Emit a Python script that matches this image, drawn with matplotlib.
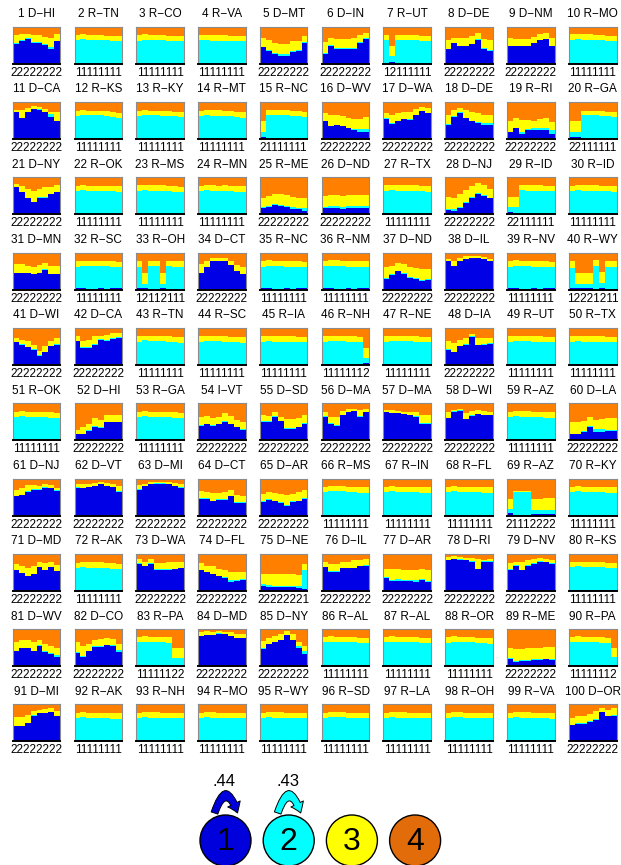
import numpy as np
import matplotlib.pyplot as plt
from matplotlib.patches import Circle, FancyArrowPatch

plt.rcParams['font.family'] = ['Liberation Sans', 'DejaVu Sans']

titles = [
    "1 D−HI", "2 R−TN", "3 R−CO", "4 R−VA", "5 D−MT", "6 D−IN", "7 R−UT", "8 D−DE", "9 D−NM", "10 R−MO",
    "11 D−CA", "12 R−KS", "13 R−KY", "14 R−MT", "15 R−NC", "16 D−WV", "17 D−WA", "18 D−DE", "19 R−RI", "20 R−GA",
    "21 D−NY", "22 R−OK", "23 R−MS", "24 R−MN", "25 R−ME", "26 D−ND", "27 R−TX", "28 D−NJ", "29 R−ID", "30 R−ID",
    "31 D−MN", "32 R−SC", "33 R−OH", "34 D−CT", "35 R−NC", "36 R−NM", "37 D−ND", "38 D−IL", "39 R−NV", "40 R−WY",
    "41 D−WI", "42 D−CA", "43 R−TN", "44 R−SC", "45 R−IA", "46 R−NH", "47 R−NE", "48 D−IA", "49 R−UT", "50 R−TX",
    "51 R−OK", "52 D−HI", "53 R−GA", "54 I−VT", "55 D−SD", "56 D−MA", "57 D−MA", "58 D−WI", "59 R−AZ", "60 D−LA",
    "61 D−NJ", "62 D−VT", "63 D−MI", "64 D−CT", "65 D−AR", "66 R−MS", "67 R−IN", "68 R−FL", "69 R−AZ", "70 R−KY",
    "71 D−MD", "72 R−AK", "73 D−WA", "74 D−FL", "75 D−NE", "76 D−IL", "77 D−AR", "78 D−RI", "79 D−NV", "80 R−KS",
    "81 D−WV", "82 D−CO", "83 R−PA", "84 D−MD", "85 D−NY", "86 R−AL", "87 R−AL", "88 R−OR", "89 R−ME", "90 R−PA",
    "91 D−MI", "92 R−AK", "93 R−NH", "94 R−MO", "95 R−WY", "96 R−SD", "97 R−LA", "98 R−OH", "99 R−VA", "100 D−OR",
]

A, B = "11111111", "22222222"
labels = [
    B, A, A, A, B, B, "12111111", B, B, A,
    B, A, A, A, "21111111", B, B, B, B, "22111111",
    B, A, A, A, B, B, A, B, "22111111", A,
    B, A, "12112111", B, A, A, B, B, A, "12221211",
    B, B, A, A, A, "11111112", A, B, A, A,
    A, B, A, B, B, B, B, B, A, B,
    B, B, B, B, B, A, A, A, "21112222", A,
    B, A, B, B, "22222221", B, B, B, B, A,
    B, B, "11111122", B, B, A, A, A, B, "11111112",
    B, A, A, A, A, A, A, A, A, B,
]

# cumulative tops (percent of panel height): blue, blue+cyan, blue+cyan+yellow; rest orange
blue_top = [
    [54, 62, 67, 57, 57, 50, 41, 61], [1, 1, 1, 1, 1, 1, 1, 1], [1, 1, 1, 1, 1, 1, 1, 1], [1, 1, 1, 1, 1, 1, 1, 1],
    [45, 33, 27, 22, 22, 31, 33, 57], [27, 49, 41, 41, 41, 41, 57, 68], [2, 4, 1, 1, 1, 1, 1, 1],
    [39, 56, 48, 48, 52, 65, 41, 34], [48, 48, 48, 48, 55, 63, 66, 48], [1, 1, 1, 1, 1, 1, 1, 1],

    [72, 57, 73, 80, 79, 72, 60, 48], [1, 1, 1, 1, 1, 1, 1, 1], [1, 1, 1, 1, 1, 1, 1, 1], [1, 1, 1, 1, 1, 1, 1, 1],
    [6, 1, 1, 1, 1, 1, 1, 1], [49, 34, 37, 34, 29, 24, 19, 19], [55, 41, 49, 53, 52, 64, 75, 70],
    [39, 60, 71, 57, 49, 44, 39, 39], [18, 29, 14, 25, 25, 25, 25, 14], [6, 6, 1, 1, 1, 1, 1, 1],

    [73, 59, 43, 32, 45, 45, 55, 59], [1, 1, 1, 1, 1, 1, 1, 1], [1, 1, 1, 1, 1, 1, 1, 1], [1, 1, 1, 1, 1, 1, 1, 1],
    [16, 20, 25, 23, 20, 14, 14, 9], [16, 17, 17, 14, 16, 18, 18, 18], [1, 1, 1, 1, 1, 1, 1, 1],
    [11, 9, 16, 30, 43, 55, 50, 43], [5, 2, 1, 1, 1, 1, 1, 1], [1, 1, 1, 1, 1, 1, 1, 1],

    [45, 45, 45, 41, 45, 54, 41, 41], [3, 3, 2, 2, 3, 2, 3, 3], [3, 5, 2, 2, 4, 2, 2, 2], [44, 60, 76, 76, 76, 66, 50, 41],
    [3, 3, 2, 2, 3, 2, 3, 3], [3, 3, 2, 2, 3, 2, 3, 3], [28, 40, 49, 41, 32, 29, 23, 25],
    [76, 64, 77, 82, 85, 85, 82, 76], [3, 3, 2, 2, 3, 2, 3, 3], [3, 4, 5, 4, 2, 4, 2, 2],

    [62, 55, 48, 41, 25, 34, 50, 55], [64, 45, 45, 55, 68, 65, 70, 73], [3, 3, 3, 2, 3, 3, 3, 3], [3, 3, 3, 2, 3, 3, 3, 3],
    [3, 3, 2, 3, 2, 3, 3, 3], [3, 3, 3, 3, 3, 3, 3, 4], [3, 3, 2, 3, 3, 3, 3, 3],
    [41, 34, 50, 55, 75, 53, 55, 57], [3, 3, 2, 3, 2, 3, 3, 3], [3, 3, 3, 2, 3, 3, 3, 3],

    [1, 1, 1, 1, 1, 1, 3, 1], [16, 16, 25, 36, 34, 48, 48, 48], [1, 1, 1, 1, 1, 1, 3, 1], [39, 43, 39, 43, 50, 43, 36, 27],
    [50, 50, 64, 52, 30, 30, 36, 45], [64, 45, 39, 68, 75, 79, 64, 75], [75, 73, 73, 70, 68, 64, 45, 45],
    [59, 77, 80, 57, 66, 70, 68, 68], [1, 1, 1, 1, 1, 1, 3, 1], [16, 16, 23, 36, 23, 23, 25, 25],

    [52, 55, 64, 70, 70, 75, 73, 65], [75, 73, 77, 80, 84, 80, 77, 64], [70, 79, 85, 86, 86, 85, 80, 75],
    [45, 45, 38, 43, 43, 52, 34, 34], [36, 43, 38, 34, 27, 36, 38, 45], [2, 2, 2, 2, 2, 2, 2, 2],
    [2, 2, 2, 2, 2, 2, 2, 2], [2, 2, 2, 2, 2, 2, 2, 2], [6, 2, 2, 2, 4, 4, 4, 4], [2, 2, 2, 2, 2, 2, 2, 2],

    [55, 48, 39, 45, 64, 55, 64, 53], [2, 2, 2, 2, 2, 2, 2, 2], [73, 66, 73, 57, 57, 57, 59, 61],
    [55, 50, 45, 39, 34, 25, 27, 30], [14, 11, 9, 9, 9, 9, 7, 5], [64, 52, 52, 61, 61, 61, 66, 68],
    [34, 27, 27, 27, 27, 25, 29, 23], [82, 85, 84, 83, 79, 59, 79, 79], [57, 68, 56, 68, 73, 79, 77, 73],
    [2, 2, 2, 2, 2, 2, 2, 2],

    [41, 48, 48, 41, 55, 38, 34, 25], [36, 25, 41, 52, 52, 57, 55, 39], [3, 3, 2, 3, 3, 3, 4, 4],
    [80, 84, 84, 88, 86, 80, 75, 75], [47, 59, 64, 70, 84, 70, 50, 34], [3, 3, 2, 3, 2, 3, 3, 3],
    [3, 3, 2, 3, 2, 3, 3, 3], [3, 3, 2, 3, 2, 3, 3, 3], [18, 12, 14, 14, 16, 16, 18, 16], [3, 3, 3, 3, 3, 3, 3, 3],

    [41, 41, 49, 70, 76, 76, 79, 68], [1, 1, 1, 1, 1, 3, 1, 1], [1, 1, 1, 1, 1, 3, 1, 1], [1, 1, 1, 1, 1, 3, 1, 1],
    [1, 1, 1, 1, 1, 3, 1, 1], [1, 1, 1, 1, 1, 3, 1, 1], [1, 1, 1, 1, 1, 3, 1, 1], [1, 1, 1, 1, 1, 3, 1, 1],
    [1, 1, 1, 1, 1, 3, 1, 1], [43, 48, 48, 53, 59, 79, 68, 70],
]

cyan_top = [
    [55, 65, 70, 58, 58, 52, 45, 62], [63, 66, 64, 64, 64, 63, 61, 61], [62, 65, 63, 63, 63, 61, 60, 60], [63, 64, 62, 62, 62, 61, 60, 60],
    [46, 36, 30, 25, 25, 35, 36, 59], [28, 50, 43, 43, 43, 43, 59, 70], [64, 20, 64, 64, 64, 63, 61, 61],
    [40, 57, 49, 49, 53, 66, 43, 37], [49, 49, 49, 49, 56, 64, 67, 49], [64, 66, 64, 64, 64, 63, 61, 61],

    [73, 58, 74, 81, 80, 74, 67, 50], [62, 66, 64, 64, 64, 62, 60, 57], [62, 66, 64, 64, 63, 63, 61, 59], [62, 65, 63, 63, 63, 62, 60, 58],
    [18, 66, 64, 64, 64, 63, 61, 60], [50, 35, 38, 36, 31, 28, 28, 28], [56, 42, 50, 54, 53, 65, 76, 71],
    [40, 61, 72, 58, 50, 45, 43, 43], [20, 31, 20, 28, 29, 29, 29, 23], [18, 18, 64, 64, 64, 63, 61, 60],

    [74, 60, 45, 34, 46, 46, 56, 60], [64, 66, 64, 62, 64, 62, 64, 61], [63, 66, 64, 64, 63, 63, 61, 60], [62, 65, 63, 63, 64, 62, 61, 61],
    [20, 23, 27, 25, 23, 20, 18, 16], [20, 22, 22, 19, 22, 22, 22, 22], [63, 66, 64, 64, 63, 63, 62, 61],
    [15, 13, 20, 33, 46, 58, 52, 45], [20, 20, 65, 64, 64, 64, 62, 62], [63, 66, 64, 64, 64, 63, 62, 61],

    [46, 46, 46, 42, 46, 55, 42, 42], [62, 65, 64, 64, 64, 64, 62, 61], [62, 15, 64, 64, 15, 63, 62, 61], [45, 61, 77, 77, 77, 67, 51, 42],
    [62, 65, 63, 63, 62, 62, 61, 60], [63, 64, 63, 63, 62, 62, 61, 60], [30, 42, 50, 46, 35, 32, 27, 28],
    [77, 65, 78, 83, 86, 86, 83, 77], [62, 65, 63, 63, 62, 62, 61, 60], [59, 16, 16, 16, 64, 18, 62, 61],

    [63, 56, 49, 42, 27, 35, 51, 56], [65, 48, 48, 56, 69, 66, 72, 75], [63, 66, 64, 64, 64, 63, 62, 60], [62, 65, 64, 64, 63, 63, 62, 60],
    [62, 64, 63, 63, 63, 62, 61, 61], [63, 65, 64, 64, 63, 63, 62, 18], [62, 65, 64, 64, 64, 63, 62, 61],
    [43, 36, 51, 57, 78, 55, 57, 59], [63, 65, 64, 64, 63, 63, 62, 61], [62, 65, 63, 63, 62, 62, 61, 61],

    [64, 66, 64, 64, 63, 63, 61, 60], [18, 18, 27, 38, 36, 49, 49, 49], [63, 65, 64, 64, 63, 63, 61, 61], [40, 44, 40, 44, 51, 44, 37, 30],
    [51, 51, 65, 53, 32, 32, 37, 46], [66, 47, 41, 69, 76, 80, 65, 76], [76, 74, 74, 71, 69, 65, 46, 46],
    [61, 78, 81, 58, 67, 71, 69, 69], [63, 65, 64, 64, 63, 63, 61, 61], [18, 18, 25, 38, 29, 29, 28, 28],

    [53, 56, 65, 71, 71, 76, 74, 68], [76, 74, 78, 81, 85, 81, 78, 65], [71, 80, 86, 87, 87, 86, 81, 76],
    [46, 46, 39, 44, 44, 53, 37, 37], [38, 45, 40, 36, 29, 38, 40, 46], [64, 67, 65, 65, 64, 64, 62, 62],
    [63, 66, 64, 64, 64, 63, 62, 62], [63, 65, 64, 64, 64, 63, 62, 61], [18, 63, 63, 63, 16, 16, 16, 16], [63, 66, 64, 64, 64, 63, 62, 61],

    [56, 49, 41, 46, 65, 56, 65, 54], [61, 63, 62, 62, 62, 61, 60, 58], [74, 67, 74, 58, 58, 58, 60, 62],
    [56, 51, 46, 41, 36, 29, 30, 31], [18, 16, 14, 14, 14, 14, 12, 55], [65, 53, 53, 62, 62, 62, 67, 69],
    [36, 30, 31, 30, 30, 28, 31, 27], [83, 86, 85, 84, 80, 60, 80, 81], [58, 69, 57, 69, 74, 80, 78, 74],
    [63, 66, 65, 64, 64, 63, 62, 62],

    [42, 49, 49, 42, 56, 40, 36, 29], [38, 27, 42, 53, 53, 58, 56, 43], [64, 66, 64, 64, 64, 63, 23, 23],
    [81, 85, 85, 89, 87, 81, 76, 76], [48, 60, 65, 71, 85, 71, 53, 41], [64, 66, 65, 65, 64, 64, 62, 62],
    [64, 66, 65, 65, 64, 64, 63, 62], [63, 66, 65, 65, 64, 63, 62, 61], [21, 15, 17, 17, 18, 18, 20, 19], [64, 66, 64, 64, 64, 63, 62, 24],

    [42, 42, 50, 71, 77, 77, 80, 69], [64, 66, 63, 63, 63, 62, 61, 61], [64, 66, 64, 64, 64, 63, 62, 62], [63, 66, 64, 64, 63, 63, 62, 62],
    [64, 66, 64, 64, 64, 63, 62, 62], [64, 66, 65, 65, 64, 63, 62, 62], [63, 66, 64, 64, 64, 63, 62, 62], [64, 66, 65, 64, 64, 63, 62, 62],
    [63, 66, 64, 64, 64, 63, 62, 61], [45, 49, 49, 54, 60, 80, 69, 71],
]

yellow_top = [
    [77, 79, 81, 78, 78, 73, 70, 81], [77, 79, 78, 78, 78, 76, 75, 75], [77, 79, 77, 77, 77, 76, 75, 75], [77, 78, 77, 77, 77, 76, 74, 74],
    [69, 63, 57, 54, 54, 60, 60, 75], [59, 69, 68, 68, 66, 69, 77, 83], [78, 47, 78, 78, 78, 77, 76, 76],
    [64, 70, 70, 70, 75, 82, 66, 64], [70, 68, 68, 68, 73, 80, 82, 70], [79, 81, 79, 79, 78, 78, 76, 76],

    [78, 78, 85, 89, 87, 82, 74, 74], [76, 78, 77, 77, 77, 76, 73, 71], [76, 78, 77, 77, 76, 76, 74, 72], [77, 79, 78, 78, 77, 76, 74, 72],
    [50, 79, 78, 78, 78, 77, 75, 74], [69, 64, 64, 61, 58, 55, 55, 60], [69, 64, 70, 73, 73, 82, 87, 83],
    [66, 78, 84, 78, 72, 69, 66, 66], [50, 58, 52, 52, 50, 55, 58, 46], [48, 48, 76, 76, 76, 75, 74, 73],

    [82, 77, 68, 64, 68, 73, 75, 79], [77, 79, 77, 76, 77, 76, 77, 76], [78, 80, 79, 79, 78, 77, 76, 75], [77, 79, 78, 77, 78, 77, 77, 76],
    [45, 50, 55, 55, 52, 48, 45, 45], [50, 52, 52, 50, 52, 52, 52, 52], [78, 80, 79, 79, 78, 78, 77, 76],
    [47, 45, 55, 65, 77, 84, 79, 68], [47, 47, 79, 79, 78, 78, 77, 77], [77, 79, 78, 78, 78, 77, 76, 76],

    [68, 68, 64, 61, 66, 73, 64, 64], [76, 78, 77, 77, 77, 77, 76, 75], [78, 45, 78, 78, 45, 78, 77, 76], [68, 77, 86, 85, 85, 77, 66, 60],
    [77, 79, 78, 78, 77, 77, 76, 75], [78, 79, 79, 78, 78, 77, 76, 76], [60, 64, 73, 68, 60, 58, 55, 55],
    [82, 78, 86, 90, 91, 91, 88, 82], [77, 79, 78, 78, 77, 77, 76, 75], [77, 45, 45, 45, 79, 48, 77, 76],

    [73, 68, 64, 55, 38, 50, 64, 73], [79, 65, 68, 77, 79, 82, 85, 85], [77, 79, 78, 78, 77, 77, 76, 75], [77, 79, 78, 78, 77, 76, 76, 75],
    [77, 79, 78, 77, 77, 77, 76, 76], [77, 79, 78, 78, 77, 77, 76, 47], [77, 79, 78, 78, 77, 77, 76, 76],
    [64, 60, 68, 72, 83, 72, 72, 73], [77, 79, 78, 78, 77, 77, 76, 76], [77, 79, 78, 78, 77, 77, 76, 76],

    [76, 78, 77, 77, 76, 76, 75, 74], [27, 36, 45, 59, 55, 68, 68, 68], [76, 78, 77, 77, 76, 76, 75, 74], [64, 66, 61, 64, 73, 66, 55, 50],
    [68, 66, 77, 64, 58, 58, 61, 68], [77, 64, 64, 80, 84, 84, 82, 84], [82, 82, 79, 77, 77, 75, 68, 68],
    [75, 82, 85, 73, 79, 82, 79, 77], [77, 79, 78, 78, 77, 77, 76, 75], [50, 50, 52, 64, 55, 58, 61, 61],

    [68, 73, 82, 82, 79, 85, 82, 73], [86, 85, 86, 89, 91, 89, 86, 79], [82, 86, 91, 91, 90, 90, 87, 85],
    [65, 64, 61, 62, 64, 68, 55, 52], [59, 64, 62, 59, 55, 57, 64, 68], [78, 80, 79, 79, 78, 78, 77, 77],
    [78, 80, 78, 78, 78, 77, 77, 76], [77, 79, 78, 78, 77, 77, 76, 76], [45, 66, 66, 66, 45, 45, 47, 47], [77, 79, 78, 78, 77, 77, 76, 76],

    [73, 68, 61, 66, 79, 75, 79, 70], [76, 78, 77, 77, 77, 76, 74, 72], [85, 79, 85, 75, 75, 77, 77, 79],
    [75, 68, 66, 59, 55, 50, 50, 52], [45, 45, 45, 45, 45, 45, 43, 73], [79, 73, 73, 79, 79, 82, 82, 86],
    [59, 58, 58, 55, 55, 55, 58, 55], [91, 94, 92, 90, 88, 85, 82, 85], [75, 77, 79, 82, 85, 88, 87, 82],
    [77, 79, 78, 78, 77, 77, 76, 76],

    [66, 70, 70, 64, 70, 59, 55, 50], [64, 55, 61, 70, 73, 75, 73, 61], [78, 80, 79, 79, 78, 78, 50, 50],
    [93, 94, 93, 94, 93, 91, 88, 88], [68, 75, 82, 86, 94, 86, 66, 53], [78, 80, 79, 79, 78, 78, 77, 77],
    [78, 80, 79, 79, 78, 78, 77, 76], [78, 80, 79, 79, 78, 77, 76, 76], [50, 47, 47, 48, 50, 50, 52, 52], [78, 80, 79, 79, 78, 78, 77, 48],

    [65, 65, 72, 82, 86, 88, 89, 82], [78, 80, 78, 78, 77, 77, 76, 76], [78, 80, 79, 79, 78, 78, 77, 77], [78, 80, 79, 78, 78, 77, 77, 76],
    [78, 80, 79, 79, 78, 78, 77, 76], [78, 80, 79, 79, 78, 77, 77, 76], [78, 80, 79, 79, 78, 78, 77, 77], [78, 80, 79, 78, 78, 78, 77, 76],
    [78, 80, 79, 79, 78, 77, 77, 76], [64, 68, 70, 75, 82, 89, 86, 91],
]

state_names = ["1", "2", "3", "4"]
state_colors = ["#0000e6", "#00ffff", "#ffff00", "#ff8000"]
legend_colors = ["#0000dd", "#00ffff", "#ffff00", "#e36c0a"]
stay_prob = [".44", ".43"]

W, H = 621, 865
fig = plt.figure(figsize=(W / 100, H / 100), dpi=100)
over = fig.add_axes([0, 0, 1, 1])
over.set_xlim(0, W)
over.set_ylim(H, 0)
over.axis("off")

# panel grid in pixels
x0, dx, pw = 12.7, 61.8, 47.6
y0, dy, ph = 26.7, 75.3, 37.0
edges = np.arange(9)

for i in range(100):
    r, c = divmod(i, 10)
    left = x0 + c * dx
    top = y0 + r * dy
    ax = fig.add_axes([left / W, 1 - (top + ph) / H, pw / W, ph / H])
    b = np.array(blue_top[i]) / 100
    cy = np.array(cyan_top[i]) / 100
    yl = np.array(yellow_top[i]) / 100
    ax.stairs(b, edges, baseline=0, fill=True, color=state_colors[0], lw=0)
    ax.stairs(cy, edges, baseline=b, fill=True, color=state_colors[1], lw=0)
    ax.stairs(yl, edges, baseline=cy, fill=True, color=state_colors[2], lw=0)
    ax.stairs(np.ones(8), edges, baseline=yl, fill=True, color=state_colors[3], lw=0)
    ax.set_xlim(0, 8)
    ax.set_ylim(0, 1)
    ax.set_xticks([])
    ax.set_yticks([])
    for s in ["left", "right", "top"]:
        ax.spines[s].set_color("#8c8c8c")
        ax.spines[s].set_linewidth(0.8)
    ax.spines["bottom"].set_color("black")
    ax.spines["bottom"].set_linewidth(1.4)

    over.text(left + pw / 2, top - 12.5, titles[i], ha="center", va="center", fontsize=8.5)
    over.text(left + pw / 2, top + ph + 9, labels[i], ha="center", va="center", fontsize=8.5)

# legend of states
cx0, cdx, cyc, rad = 225.5, 63.2, 840.5, 25.5
for k in range(4):
    cx = cx0 + k * cdx
    over.add_patch(Circle((cx, cyc), rad, facecolor=legend_colors[k], edgecolor="black", lw=1.0))
    over.text(cx, cyc + 1, state_names[k], ha="center", va="center", fontsize=23)

for k in range(2):
    cx = cx0 + k * cdx
    arr = FancyArrowPatch((cx - 11, 813), (cx + 12, 813),
                          connectionstyle="arc3,rad=-1.5",
                          arrowstyle="simple,head_width=10,head_length=7,tail_width=5",
                          facecolor=legend_colors[k], edgecolor="black", lw=0.7,
                          shrinkA=0, shrinkB=0)
    over.add_patch(arr)
    over.text(cx - 1, 781, stay_prob[k], ha="center", va="center", fontsize=12)

fig.savefig("out.png", dpi=100)
